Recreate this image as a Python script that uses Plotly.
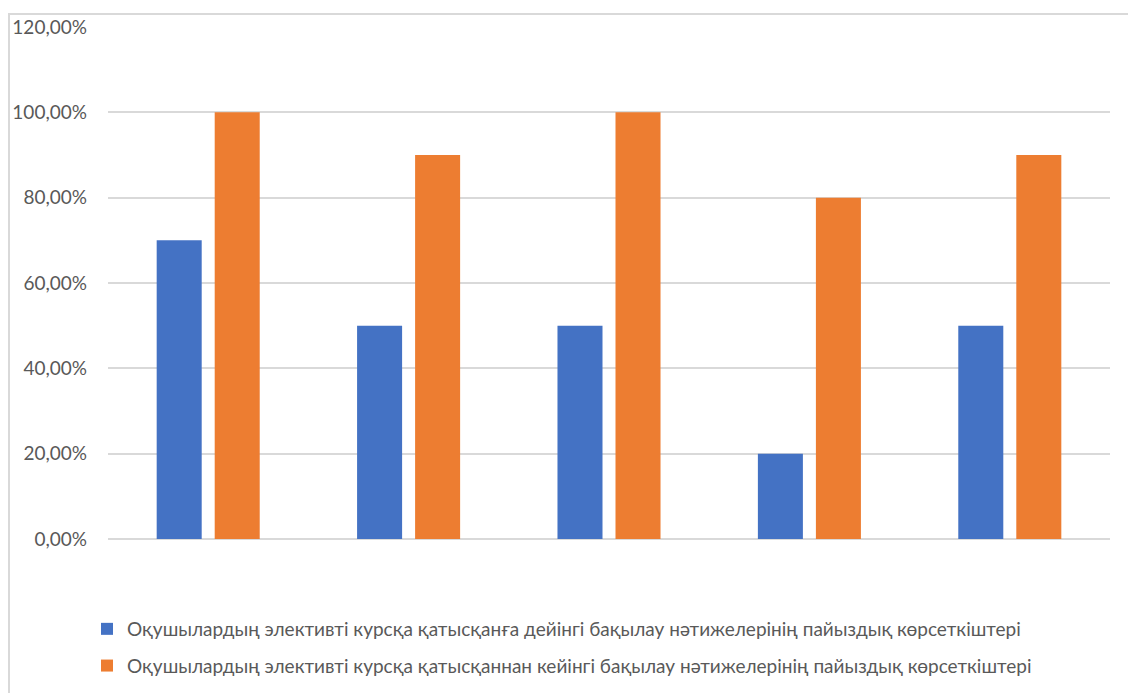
import plotly.graph_objects as go

categories = ["1", "2", "3", "4", "5"]
before_values = [70, 50, 50, 20, 50]
after_values = [100, 90, 100, 80, 90]
series_names = [
    "Оқушылардың элективті курсқа қатысқанға дейінгі бақылау нәтижелерінің пайыздық көрсеткіштері",
    "Оқушылардың элективті курсқа қатысқаннан кейінгі бақылау нәтижелерінің пайыздық көрсеткіштері",
]
tick_vals = [0, 20, 40, 60, 80, 100, 120]
tick_labels = ["0,00%", "20,00%", "40,00%", "60,00%", "80,00%", "100,00%", "120,00%"]

BLUE = "#4472C4"
ORANGE = "#ED7D31"
GRID = "#D9D9D9"
TEXT = "#595959"
FONT = "Lato, Carlito, Calibri, sans-serif"

fig = go.Figure()
fig.add_trace(go.Bar(x=categories, y=before_values, name=series_names[0], legendgroup="a",
                     marker=dict(color=BLUE, line=dict(width=0))))
fig.add_trace(go.Bar(x=categories, y=after_values, name=series_names[1], legendgroup="b",
                     marker=dict(color=ORANGE, line=dict(width=0))))

OFF = 8  # page body margin
W, H = 1136 - OFF, 693 - OFF
L, R, T, B = 108 - OFF, 26, 27 - OFF, 154
pw = W - L - R
ph = H - T - B


def px_x(page_x):
    return (page_x - OFF - L) / pw


def px_y(page_y):
    return (H - B - (page_y - OFF)) / ph


fig.update_layout(
    width=W, height=H,
    autosize=False,
    margin=dict(l=L, r=R, t=T, b=B, pad=0, autoexpand=False),
    paper_bgcolor="white",
    plot_bgcolor="white",
    barmode="group",
    bargap=0.421,
    bargroupgap=0.224,
    font=dict(family=FONT, size=19, color=TEXT),
    showlegend=True,
    legend=dict(
        orientation="v",
        x=px_x(87), xanchor="left",
        y=px_y(610), yanchor="top",
        font=dict(family=FONT, size=19, color=TEXT),
        tracegroupgap=9,
        itemwidth=30,
        bgcolor="rgba(0,0,0,0)",
    ),
    xaxis=dict(
        showticklabels=False,
        showgrid=False,
        zeroline=False,
        showline=False,
        ticks="",
        automargin=False,
    ),
    yaxis=dict(
        range=[0, 120],
        tickvals=tick_vals,
        ticktext=tick_labels,
        showgrid=True,
        gridcolor=GRID,
        gridwidth=1.5,
        zeroline=True,
        zerolinecolor=GRID,
        zerolinewidth=1.5,
        showline=False,
        ticks="",
        ticklabelstandoff=20,
        automargin=False,
        tickfont=dict(family=FONT, size=19, color=TEXT),
    ),
    shapes=[
        dict(type="rect", xref="paper", yref="paper",
             x0=px_x(9), x1=px_x(1160),
             y0=px_y(720), y1=px_y(14),
             line=dict(color=GRID, width=2), fillcolor="rgba(0,0,0,0)", layer="below"),
    ],
)

fig.write_html("out.html")
